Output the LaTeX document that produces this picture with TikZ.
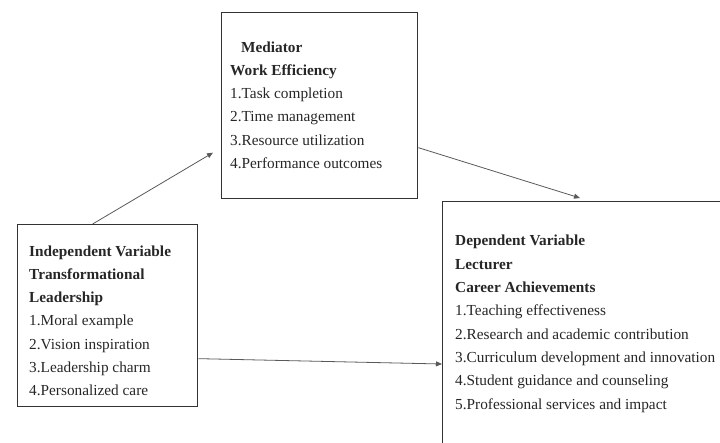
\documentclass[tikz,border=0pt]{standalone}
\usepackage{fontspec}
\setmainfont{Liberation Serif}
\usetikzlibrary{arrows.meta}

\tikzset{
  varbox/.style={draw=black!80,line width=1.3pt,rectangle,inner sep=0pt},
  vartext/.style={anchor=base west,inner sep=0pt,align=left,font=\fontsize{15.3}{23.3}\selectfont,text=black!85},
  link/.style={draw=black!65,line width=0.8pt,-{Triangle[length=6pt,width=5pt]}}
}

\begin{document}
\begin{tikzpicture}[x=1pt,y=-1pt]
\useasboundingbox (0,0) rectangle (720,442);
\clip (0,0) rectangle (720,442);

% boxes
\node[varbox,anchor=north west,minimum width=180pt,minimum height=182pt] (indep) at (17,224) {};
\node[varbox,anchor=north west,minimum width=196pt,minimum height=186pt] (med) at (221,12) {};
\node[varbox,anchor=north west,minimum width=300pt,minimum height=260pt] (dep) at (442,201) {};

% texts (anchored at the last line)
\node[vartext] (indeptxt) at (29,395.8) {\textbf{Independent Variable}\\\textbf{Transformational}\\\textbf{Leadership}\\1.Moral example\\2.Vision inspiration\\3.Leadership charm\\4.Personalized care};
\node[vartext] (medtxt) at (230,168.5) {\hspace{11pt}\textbf{Mediator}\\\textbf{Work Efficiency}\\1.Task completion\\2.Time management\\3.Resource utilization\\4.Performance outcomes};
\node[vartext] (deptxt) at (455,409) {\textbf{Dependent Variable}\\\textbf{Lecturer}\\\textbf{Career Achievements}\\1.Teaching effectiveness\\2.Research and academic contribution\\3.Curriculum development and innovation\\4.Student guidance and counseling\\5.Professional services and impact};

% connectors
\draw[link] ([xshift=-15pt]indep.north) -- ([xshift=-8pt,yshift=-47pt]med.west);
\draw[link] ([yshift=-42pt]med.east) -- ([xshift=138pt,yshift=3pt]dep.north west);
\draw[link] ([yshift=-43pt]indep.east) -- ([yshift=-163pt]dep.north west);
\end{tikzpicture}
\end{document}
